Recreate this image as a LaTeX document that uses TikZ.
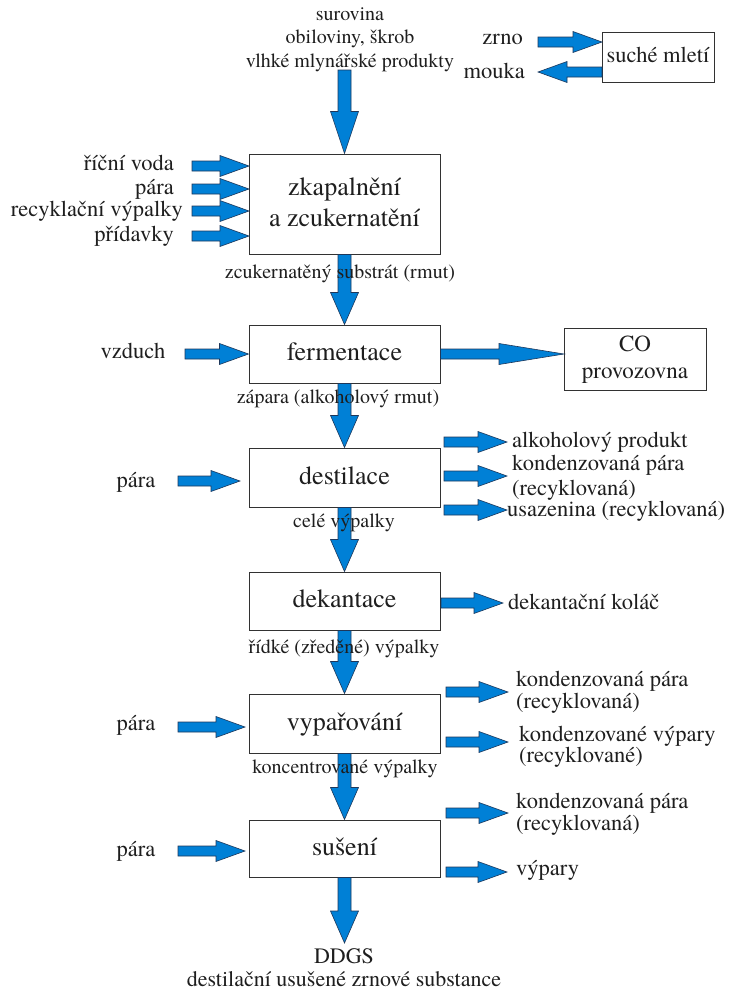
\documentclass[tikz,border=0pt]{standalone}
\usepackage{fontspec}
\setmainfont{texgyretermes}[Extension=.otf,UprightFont=*-regular,BoldFont=*-bold,ItalicFont=*-italic,BoldItalicFont=*-bolditalic]
\usetikzlibrary{calc}
\definecolor{arrblue}{RGB}{0,128,214}
\definecolor{arrline}{RGB}{30,55,90}
\definecolor{boxline}{RGB}{50,50,50}
\definecolor{txt}{RGB}{30,30,30}
% block arrow: #1 start, #2 tip, #3 shaft half width, #4 head half width, #5 head length
\newcommand\barr[5]{%
  \path ($(#2)!#5!(#1)$) coordinate (bah);
  \filldraw[arr] ($(#1)!#3!90:(#2)$) -- ($(bah)!#3!90:(#2)$) -- ($(bah)!#4!90:(#2)$)
    -- (#2) -- ($(bah)!#4!-90:(#2)$) -- ($(bah)!#3!-90:(#2)$) -- ($(#1)!#3!-90:(#2)$) -- cycle;}
\newcommand\varr[2]{\barr{#1}{#2}{6.5pt}{14pt}{32pt}}
\newcommand\harr[2]{\barr{#1}{#2}{5pt}{10.5pt}{29pt}}
\begin{document}
\begin{tikzpicture}[x=1pt,y=-1pt,
  every node/.style={text=txt},
  arr/.style={fill=arrblue,draw=arrline,line width=0.6pt,line join=miter},
  box/.style={draw=boxline,line width=1pt,fill=white,inner sep=0pt,minimum width=191pt,
    align=center,font=\fontsize{26}{31}\selectfont,text height=18.2pt,text depth=5.2pt},
  side/.style={inner sep=0pt,align=left,font=\fontsize{22.5}{23}\selectfont,text height=15.75pt,text depth=4.5pt},
  side2/.style={side,text height=#1},
  small/.style={inner sep=0pt,align=center,font=\fontsize{20}{23.5}\selectfont,text height=14pt,text depth=4pt}]
\useasboundingbox (0,0) rectangle (736,994);

% process boxes
\node[box,minimum height=100pt,text height=49.2pt] (b1) at (344.5,204) {zkapalnění\\a zcukernatění};
\node[box,minimum height=58pt] (b2) at (344.5,354) {fermentace};
\node[box,minimum height=59pt] (b3) at (344.5,477.5) {destilace};
\node[box,minimum height=58pt] (b4) at (344.5,601) {dekantace};
\node[box,minimum height=59pt] (b5) at (344.5,723.5) {vypařování};
\node[box,minimum height=57pt] (b6) at (344.5,848.5) {sušení};
\node[box,minimum width=142pt,minimum height=62pt,font=\fontsize{23}{27}\selectfont,text height=43.1pt,text depth=4.6pt] (co) at (635,359) {CO\\provozovna};
\node[box,minimum width=112pt,minimum height=50pt,font=\fontsize{22.5}{27}\selectfont,text height=15.75pt,text depth=4.5pt] (ml) at (658,57) {suché mletí};

% free ends
\coordinate (topS) at (344.5,70);
\coordinate (botE) at (344.5,943);
\coordinate (i1s) at (192,166); \coordinate (i1e) at (249,166);
\coordinate (i2s) at (192,189); \coordinate (i2e) at (249,189);
\coordinate (i3s) at (192,211); \coordinate (i3e) at (249,211);
\coordinate (i4s) at (192,236); \coordinate (i4e) at (249,236);
\coordinate (vzs) at (185,354);
\coordinate (coe) at (564,354);
\coordinate (p3s) at (178,481); \coordinate (p3e) at (240,481);
\coordinate (p5s) at (178,727); \coordinate (p5e) at (245,727);
\coordinate (p6s) at (178,851); \coordinate (p6e) at (245,851);
\coordinate (d1s) at (444,442); \coordinate (d1e) at (507,442);
\coordinate (d2s) at (444,476); \coordinate (d2e) at (507,476);
\coordinate (d3s) at (444,510); \coordinate (d3e) at (507,510);
\coordinate (k1s) at (441,603); \coordinate (k1e) at (503,603);
\coordinate (v1s) at (446,692); \coordinate (v1e) at (508,692);
\coordinate (v2s) at (446,742); \coordinate (v2e) at (508,742);
\coordinate (s1s) at (446,813); \coordinate (s1e) at (508,813);
\coordinate (s2s) at (446,872); \coordinate (s2e) at (507,872);
\coordinate (zrs) at (538,42); \coordinate (zre) at (602,42);
\coordinate (mos) at (602,72); \coordinate (moe) at (538,72);

% arrows
\barr{topS}{b1.north}{6.5pt}{14pt}{42pt}
\varr{b1.south}{b2.north}
\varr{b2.south}{b3.north}
\varr{b3.south}{b4.north}
\varr{b4.south}{b5.north}
\varr{b5.south}{b6.north}
\varr{b6.south}{botE}
\harr{i1s}{i1e}\harr{i2s}{i2e}\harr{i3s}{i3e}\harr{i4s}{i4e}
\harr{vzs}{b2.west}
\barr{b2.east}{coe}{5pt}{10.5pt}{65pt}
\harr{p3s}{p3e}\harr{p5s}{p5e}\harr{p6s}{p6e}
\harr{d1s}{d1e}\harr{d2s}{d2e}\harr{d3s}{d3e}
\harr{k1s}{k1e}
\harr{v1s}{v1e}\harr{v2s}{v2e}
\harr{s1s}{s1e}\harr{s2s}{s2e}
\harr{zrs}{zre}\harr{mos}{moe}

% labels
\node[small,text height=61pt] (lraw) at (350,38.5) {surovina\\obiloviny, škrob\\vlhké mlynářské produkty};
\node[side,anchor=east] (lzrno) at (523,39) {zrno};
\node[side,anchor=east] (lmouka) at (525,73) {mouka};
\node[side,anchor=east] (lvoda) at (174,165) {říční voda};
\node[side,anchor=east] (lpara1) at (174,189) {pára};
\node[side,anchor=east] (lrecy) at (183,211) {recyklační výpalky};
\node[side,anchor=east] (lprid) at (174,236) {přídavky};
\node[small] (lsub) at (340,273) {zcukernatěný substrát (rmut)};
\node[side] (lvzd) at (133,353) {vzduch};
\node[small] (lzap) at (338,398) {zápara (alkoholový rmut)};
\node[side] (lpara3) at (136,482) {pára};
\node[side,anchor=west] (lalk) at (512,442) {alkoholový produkt};
\node[side2=40.25pt,anchor=west,font=\fontsize{22.5}{24.5}\selectfont] (lkp1) at (512,477.5) {kondenzovaná pára\\(recyklovaná)};
\node[side,anchor=west] (lusa) at (507,511) {usazenina (recyklovaná)};
\node[small] (lcele) at (344,522) {celé výpalky};
\node[side,anchor=west] (ldek) at (508,604) {dekantační koláč};
\node[small] (lrid) at (344,648) {řídké (zředěné) výpalky};
\node[side] (lpara5) at (136,725) {pára};
\node[side2=37.75pt,anchor=west,font=\fontsize{22.5}{22}\selectfont] (lkp2) at (516,692) {kondenzovaná pára\\(recyklovaná)};
\node[side2=36.75pt,anchor=west,font=\fontsize{22.5}{21}\selectfont] (lkv) at (519,746.5) {kondenzované výpary\\(recyklované)};
\node[small] (lkonc) at (345,768) {koncentrované výpalky};
\node[side] (lpara6) at (136,851) {pára};
\node[side2=37.75pt,anchor=west,font=\fontsize{22.5}{22}\selectfont] (lkp3) at (516,814) {kondenzovaná pára\\(recyklovaná)};
\node[side,anchor=west] (lvyp) at (516,870) {výpary};
\node[small,font=\fontsize{22}{23}\selectfont,text height=38.4pt,text depth=4.4pt] (lddgs) at (344,969) {DDGS\\destilační usušené zrnové substance};
\end{tikzpicture}
\end{document}
